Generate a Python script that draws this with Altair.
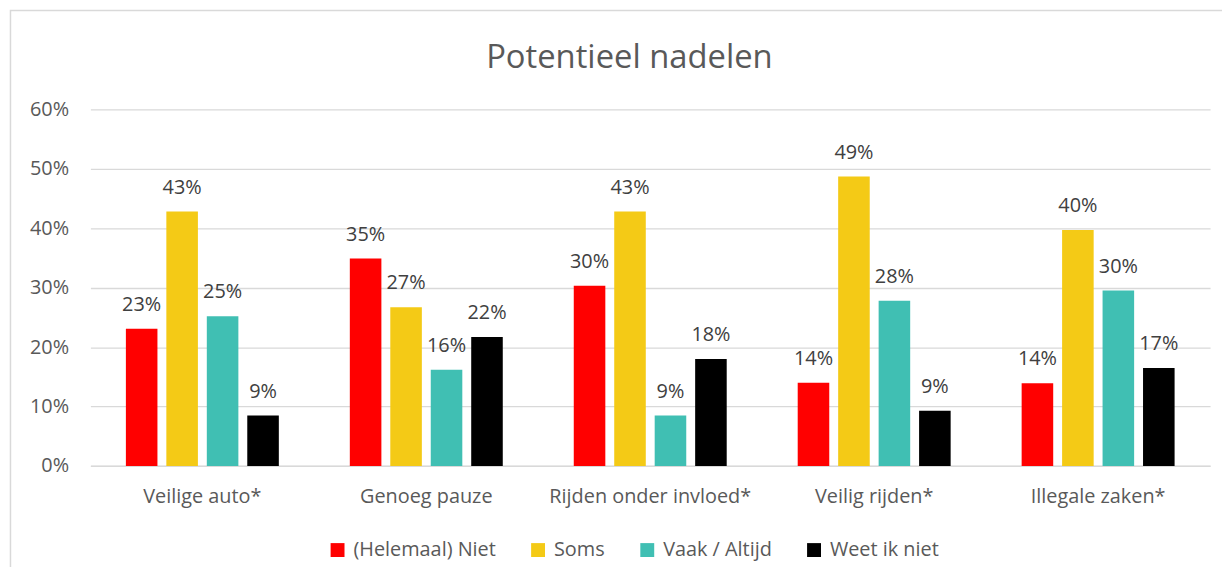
import altair as alt
import pandas as pd

categories = ["Veilige auto*", "Genoeg pauze", "Rijden onder invloed*", "Veilig rijden*", "Illegale zaken*"]
series = ["(Helemaal) Niet", "Soms", "Vaak / Altijd", "Weet ik niet"]
colors = ["#FF0000", "#F4CA16", "#40BFB3", "#000000"]
title_text = "Potentieel nadelen"

niet = [23.1, 34.9, 30.3, 14.0, 13.9]
soms = [42.8, 26.7, 42.8, 48.7, 39.7]
vaak = [25.2, 16.2, 8.5, 27.8, 29.5]
weet = [8.5, 21.7, 18.0, 9.3, 16.5]

rows = []
for s, vals in zip(series, [niet, soms, vaak, weet]):
    for c, v in zip(categories, vals):
        rows.append({"cat": c, "serie": s, "val": v / 100, "lab": f"{int(v + 0.5)}%"})
df = pd.DataFrame(rows)

FONT = "Open Sans"
FS = 20
W, H = 1128, 359.3

x = alt.X("cat:N", sort=categories, title=None,
          scale=alt.Scale(paddingInner=0.317, paddingOuter=0.1585),
          axis=alt.Axis(labelAngle=0, ticks=False, domain=True, domainColor="#D9D9D9",
                        domainWidth=1.3, labelPadding=21, labelFontSize=FS, labelLimit=400,
                        labelColor="#595959", labelFont=FONT, grid=False))
xo = alt.XOffset("serie:N", sort=series, scale=alt.Scale(paddingInner=0.22, paddingOuter=0))
y = alt.Y("val:Q", title=None,
          scale=alt.Scale(domain=[0, 0.6], nice=False),
          axis=alt.Axis(values=[0, 0.1, 0.2, 0.3, 0.4, 0.5, 0.6], format=".0%", domain=False,
                        ticks=False, labelPadding=22, labelFontSize=FS, labelColor="#595959",
                        labelFont=FONT, gridColor="#D9D9D9", gridWidth=1.3))
color = alt.Color("serie:N", sort=series,
                  scale=alt.Scale(domain=series, range=colors),
                  legend=alt.Legend(title=None, orient="none", direction="horizontal",
                                    legendX=239, legendY=434, symbolType="square",
                                    symbolSize=196, symbolStrokeWidth=0, labelFontSize=FS,
                                    labelColor="#595959", labelFont=FONT, labelOffset=6,
                                    labelLimit=400, columnPadding=32))

bars = alt.Chart(df).mark_bar().encode(x=x, xOffset=xo, y=y, color=color)
labels = alt.Chart(df).mark_text(baseline="alphabetic", dy=-18, fontSize=FS,
                                 color="#404040", font=FONT).encode(
    x=alt.X("cat:N", sort=categories), xOffset=alt.XOffset("serie:N", sort=series),
    y="val:Q", text="lab:N")

frame = alt.Chart(alt.Data(values=[{"a": 1}])).mark_rect(
    fill="transparent", stroke="#D9D9D9", strokeWidth=1.5).encode(
    x=alt.value(-80.5), x2=alt.value(W + 40), y=alt.value(-99.5), y2=alt.value(H + 200))

title = alt.Chart(alt.Data(values=[{"t": title_text}])).mark_text(
    fontSize=33, font=FONT, color="#595959", align="center", baseline="alphabetic").encode(
    x=alt.value(W / 2 - 21), y=alt.value(-42), text="t:N")

chart = alt.layer(frame, bars, labels, title).properties(
    width=W, height=H,
    autosize=alt.AutoSizeParams(type="none"),
    padding={"left": 83, "top": 100, "right": 12, "bottom": 100},
).configure(background="white", view=alt.ViewConfig(stroke=None))

chart.save("out.html", embed_options={"renderer": "svg", "actions": False})
